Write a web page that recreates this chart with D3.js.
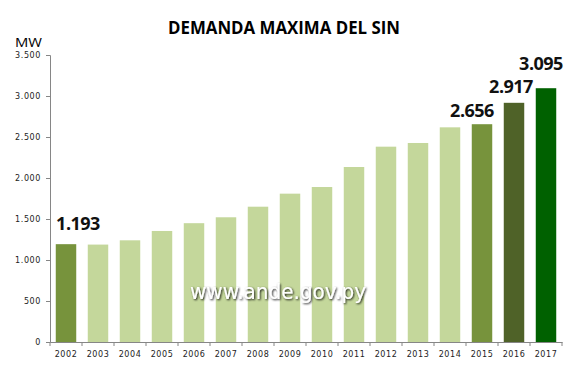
<!DOCTYPE html>
<html>
<head>
<meta charset="utf-8">
<script src="https://cdn.jsdelivr.net/npm/d3@7"></script>
<style>
  body { margin: 0; background: #fff; }
  svg { display: block; }
</style>
</head>
<body>
<div id="main"></div>
<script>
// data
const years = ["2002","2003","2004","2005","2006","2007","2008","2009","2010","2011","2012","2013","2014","2015","2016","2017"];
const demand = [1193, 1188, 1240, 1354, 1449, 1521, 1650, 1809, 1890, 2134, 2382, 2427, 2618, 2656, 2917, 3095];
const barColors = ["#77933c","#c4d79b","#c4d79b","#c4d79b","#c4d79b","#c4d79b","#c4d79b","#c4d79b",
                   "#c4d79b","#c4d79b","#c4d79b","#c4d79b","#c4d79b","#77933c","#4f6228","#006100"];
const yTicks = [0, 500, 1000, 1500, 2000, 2500, 3000, 3500];
const labelled = ["2002", "2015", "2016", "2017"];
// label nudges relative to bar centre / bar top
const labelDx = { "2002": 12, "2015": -10, "2016": -3, "2017": -5 };
const labelDy = { "2002": -14, "2015": -7, "2016": -10, "2017": -18 };

const W = 572, H = 372;
const m = { top: 55, right: 10, bottom: 30, left: 50 };

const svg = d3.select("#main").append("svg").attr("width", W).attr("height", H);
const g = svg.append("g").attr("transform", `translate(${m.left},${m.top})`);

const x = d3.scaleBand().domain(years).range([0, 512]).paddingInner(0.36).paddingOuter(0.18);
const y = d3.scaleLinear().domain([0, 3500]).range([287, 0]);

const fmt = d => d3.format(",")(d).replace(/,/g, ".");

// title
svg.append("text")
  .attr("x", 284).attr("y", 34)
  .attr("text-anchor", "middle")
  .attr("font-family", "'Open Sans', sans-serif")
  .attr("font-weight", "bold")
  .attr("font-size", 17)
  .attr("textLength", 232)
  .attr("lengthAdjust", "spacingAndGlyphs")
  .text("DEMANDA MAXIMA DEL SIN");

svg.append("text")
  .attr("x", 15).attr("y", 47)
  .attr("font-family", "'Open Sans', sans-serif")
  .attr("font-size", 13)
  .attr("textLength", 27)
  .attr("lengthAdjust", "spacingAndGlyphs")
  .text("MW");

// bars
g.selectAll("rect.bar")
  .data(years)
  .join("rect")
  .attr("class", "bar")
  .attr("x", d => x(d))
  .attr("width", x.bandwidth())
  .attr("y", (d, i) => y(demand[i]))
  .attr("height", (d, i) => y(0) - y(demand[i]))
  .attr("fill", (d, i) => barColors[i]);

// axes
const yAxis = d3.axisLeft(y).tickValues(yTicks).tickSize(4).tickFormat(fmt);
const yg = g.append("g").call(yAxis);
yg.select(".domain").attr("stroke", "#868686");
yg.selectAll(".tick line").attr("stroke", "#868686");
yg.selectAll(".tick text")
  .attr("x", -9)
  .attr("font-family", "'DejaVu Sans', sans-serif")
  .attr("font-size", 8)
  .attr("letter-spacing", 0.6)
  .attr("fill", "#222");

const xg = g.append("g").attr("transform", `translate(0,${y(0)})`)
  .call(d3.axisBottom(x).tickSize(0).tickSizeOuter(0));
xg.select(".domain").attr("stroke", "#868686");
xg.selectAll(".tick text")
  .attr("y", 9)
  .attr("font-family", "'DejaVu Sans', sans-serif")
  .attr("font-size", 8)
  .attr("letter-spacing", 0.6)
  .attr("fill", "#222");
// separators between categories
const step = x.step();
xg.selectAll("line.sep")
  .data(d3.range(years.length + 1))
  .join("line")
  .attr("class", "sep")
  .attr("x1", i => i * step).attr("x2", i => i * step)
  .attr("y1", 0).attr("y2", 4)
  .attr("stroke", "#868686");

// value labels
g.selectAll("text.val")
  .data(labelled)
  .join("text")
  .attr("class", "val")
  .attr("x", d => x(d) + x.bandwidth() / 2 + labelDx[d])
  .attr("y", d => y(demand[years.indexOf(d)]) + labelDy[d])
  .attr("text-anchor", "middle")
  .attr("font-family", "'Open Sans', sans-serif")
  .attr("font-weight", "bold")
  .attr("font-size", 18)
  .attr("letter-spacing", -0.5)
  .attr("fill", "#111")
  .text(d => fmt(demand[years.indexOf(d)]));

// watermark
const defs = svg.append("defs");
const f = defs.append("filter").attr("id", "sh").attr("x", "-10%").attr("y", "-30%").attr("width", "120%").attr("height", "160%");
f.append("feDropShadow").attr("dx", 1).attr("dy", 1).attr("stdDeviation", 0.8).attr("flood-color", "#000").attr("flood-opacity", 0.9);
svg.append("text")
  .attr("x", 278).attr("y", 299)
  .attr("text-anchor", "middle")
  .attr("font-family", "'DejaVu Sans', sans-serif")
  .attr("font-size", 21)
  .attr("textLength", 176)
  .attr("lengthAdjust", "spacingAndGlyphs")
  .attr("fill", "#fff")
  .attr("filter", "url(#sh)")
  .text("www.ande.gov.py");
</script>
</body>
</html>
